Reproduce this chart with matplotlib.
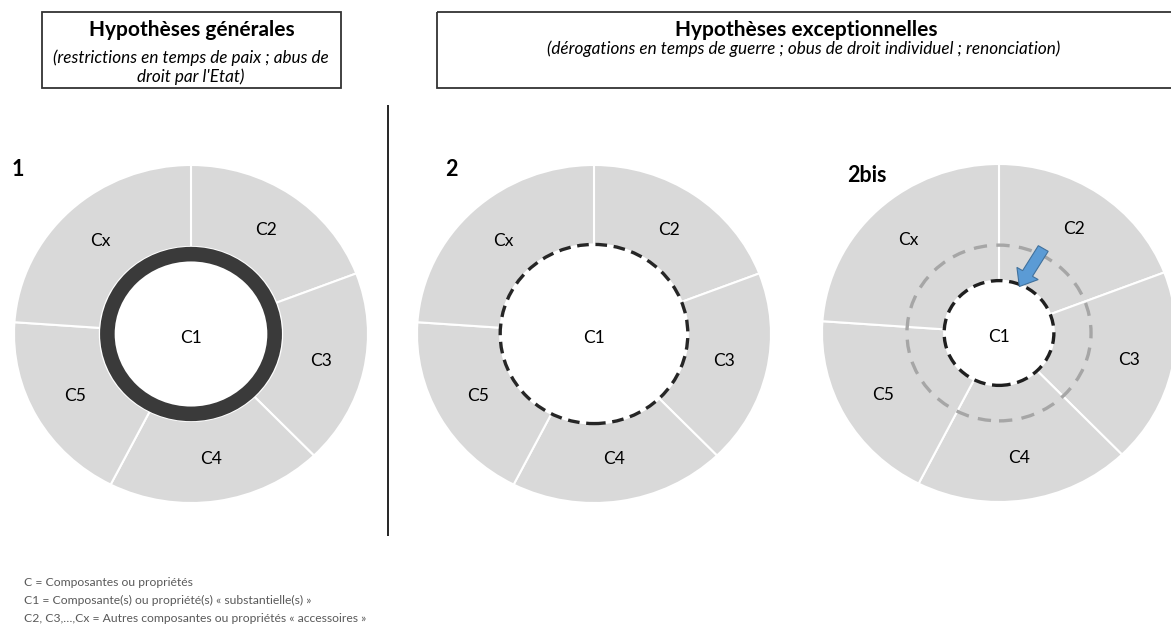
import matplotlib.pyplot as plt
from matplotlib.patches import Rectangle, Circle, FancyArrow

plt.rcParams['font.family'] = ['Lato', 'DejaVu Sans']

# données : les composantes et leur part (en degrés) dans chaque anneau
labels = ['C2', 'C3', 'C4', 'C5', 'Cx']
parts = [69, 67, 71, 67, 86]
numeros = ['1', '2', '2bis']
trous = [0.515, 0.53, 0.31]   # rayon interieur de l'anneau gris

legende = ['C = Composantes ou propriétés',
           'C1 = Composante(s) ou propriété(s) « substantielle(s) »',
           'C2, C3,…,Cx = Autres composantes ou propriétés « accessoires »']

W, H = 1171, 633
fig = plt.figure(figsize=(W / 100, H / 100), dpi=100)
ax = fig.add_axes([0, 0, 1, 1])
ax.set_xlim(0, W)
ax.set_ylim(H, 0)
ax.axis('off')

# cadres du haut
ax.add_patch(Rectangle((42, 12), 299, 76, fill=False, ec='#333333', lw=1.3))
ax.add_patch(Rectangle((437, 12), 760, 76, fill=False, ec='#333333', lw=1.3))
ax.text(192, 30, 'Hypothèses générales', ha='center', va='center',
        fontsize=15, fontweight='bold')
ax.text(191, 58, '(restrictions en temps de paix ; abus de', ha='center',
        va='center', fontsize=12.3, style='italic')
ax.text(191, 77, "droit par l'Etat)", ha='center', va='center',
        fontsize=12.3, style='italic')
ax.text(806, 30, 'Hypothèses exceptionnelles', ha='center', va='center',
        fontsize=15, fontweight='bold')
ax.text(804, 49, '(dérogations en temps de guerre ; obus de droit individuel ; renonciation)',
        ha='center', va='center', fontsize=12.3, style='italic')

# séparateur
ax.vlines(388, 105, 536, color='black', lw=1.2)

# les trois anneaux
centres = [(191, 334), (594, 334), (999, 333)]
rx, ry = 177, 169
axes = []
for (cx, cy), num, trou in zip(centres, numeros, trous):
    a = fig.add_axes([(cx - rx) / W, 1 - (cy + ry) / H, 2 * rx / W, 2 * ry / H])
    a.pie(parts, labels=labels, startangle=90, counterclock=False,
          colors=['#d9d9d9'] * len(parts), labeldistance=0.75,
          wedgeprops=dict(width=1 - trou, edgecolor='white', linewidth=1.5),
          textprops=dict(ha='center', va='center', fontsize=12.5))
    a.set_aspect('auto')
    a.set_xlim(-1, 1)
    a.set_ylim(-1, 1)
    a.text(0, -0.025, 'C1', ha='center', va='center', fontsize=12.5)
    axes.append(a)

ax.text(12, 170, numeros[0], ha='left', va='center', fontsize=15.5, fontweight='bold')
ax.text(445, 170, numeros[1], ha='left', va='center', fontsize=15.5, fontweight='bold')
ax.text(847, 175, numeros[2], ha='left', va='center', fontsize=15.5, fontweight='bold')

# 1 : anneau plein
axes[0].add_patch(Circle((0, 0), 0.4725, fill=False, ec='#3a3a3a', lw=10.5))
# 2 : pointillés
axes[1].add_patch(Circle((0, 0), 0.53, fill=False, ec='#262626', lw=2.4,
                         linestyle=(0, (3.5, 2))))
# 2bis : deux cercles pointillés + flèche
axes[2].add_patch(Circle((0, 0), 0.52, fill=False, ec='#a6a6a6', lw=2.4,
                         linestyle=(0, (4, 2.8))))
axes[2].add_patch(Circle((0, 0), 0.31, fill=False, ec='#1f1f1f', lw=2.4,
                         linestyle=(0, (3.5, 2))))
axes[2].add_patch(FancyArrow(0.25, 0.5, -0.135, -0.225, width=0.065,
                             head_width=0.14, head_length=0.09,
                             length_includes_head=True,
                             fc='#5b9bd5', ec='#41719c', lw=0.8))

for i, ligne in enumerate(legende):
    ax.text(24, 582 + 18 * i, ligne, ha='left', va='center',
            fontsize=8.7, color='#595959')

fig.savefig('out.png', dpi=100)
